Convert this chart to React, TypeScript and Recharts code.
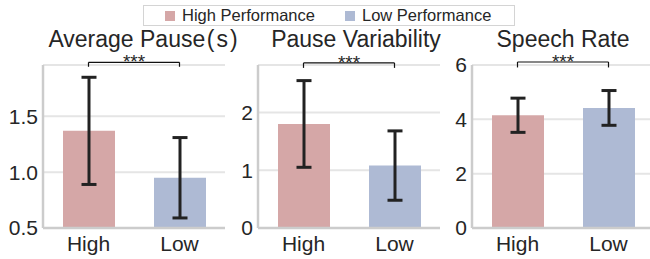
import React from 'react';
import { BarChart, Bar, XAxis, YAxis, CartesianGrid, ErrorBar, Cell, ReferenceLine } from 'recharts';

const FONT = '"Liberation Sans", Arial, Helvetica, sans-serif';
const TEXT = '#262626';

const categories = ['High', 'Low'];
const legendLabels = ['High Performance', 'Low Performance'];
const barColors = ['#d5a7a7', '#aebad4'];
const titles = ['Average Pause(s)', 'Pause Variability', 'Speech Rate'];

const pauseMeans = [1.37, 0.95];
const pauseErrors = [0.48, 0.36];
const variabilityMeans = [1.8, 1.08];
const variabilityErrors = [0.75, 0.6];
const rateMeans = [4.15, 4.42];
const rateErrors = [0.63, 0.64];

const pauseTicks = [0.5, 1.0, 1.5];
const variabilityTicks = [0, 1, 2];
const rateTicks = [0, 2, 4, 6];

const pauseDomain = [0.5, 1.96];
const variabilityDomain = [0, 2.82];
const rateDomain = [0, 6];

// significance brackets: [end of the drop, level of the bar]
const sigLabels = ['***', '***', '***'];
const pauseBracket = [1.944, 1.984];
const variabilityBracket = [2.77, 2.856];
const rateBracket = [5.91, 6.11];

const toRows = (means: number[], errors: number[]) =>
  categories.map((name, i) => ({ name, value: means[i], err: errors[i] }));

const panels = [
  { left: 3, rows: toRows(pauseMeans, pauseErrors), ticks: pauseTicks, domain: pauseDomain, bracket: pauseBracket, fmt: (v: number) => v.toFixed(1) },
  { left: 218, rows: toRows(variabilityMeans, variabilityErrors), ticks: variabilityTicks, domain: variabilityDomain, bracket: variabilityBracket, fmt: (v: number) => String(v) },
  { left: 432, rows: toRows(rateMeans, rateErrors), ticks: rateTicks, domain: rateDomain, bracket: rateBracket, fmt: (v: number) => String(v) },
];

const titleCenters = [143, 356, 563];

function Title({ text, x }: { text: string; x: number }) {
  // matplotlib mathtext spaces the "(s)" out a little
  const m = text.match(/^(.*)\((.*)\)$/);
  return (
    <text x={x} y={47} textAnchor="middle" fontSize={23} fill={TEXT} fontFamily={FONT}>
      {m ? (
        <>
          {m[1]}
          <tspan dx={1.5}>(</tspan>
          <tspan dx={2}>{m[2]}</tspan>
          <tspan dx={2}>)</tspan>
        </>
      ) : (
        text
      )}
    </text>
  );
}

function Panel({ p, idx }: { p: typeof panels[number]; idx: number }) {
  const [low, high] = p.bracket;
  return (
    <div style={{ position: 'absolute', left: p.left, top: 0 }}>
      <BarChart width={222} height={259} data={p.rows} margin={{ top: 65, right: 0, bottom: 0, left: 0 }}>
        <CartesianGrid vertical={false} stroke="#e5e5e5" strokeWidth={2} />
        <XAxis
          dataKey="name"
          height={31}
          tickLine={false}
          axisLine={{ stroke: '#cccccc', strokeWidth: 2.5 }}
          tick={{ fontSize: 21, fill: TEXT, fontFamily: FONT }}
          tickSize={6}
          tickMargin={2}
        />
        <YAxis
          width={40}
          type="number"
          domain={p.domain}
          ticks={p.ticks}
          interval={0}
          allowDataOverflow
          tickFormatter={p.fmt}
          tickLine={false}
          axisLine={{ stroke: '#cccccc', strokeWidth: 2.5 }}
          tick={{ fontSize: 21, fill: TEXT, fontFamily: FONT }}
          tickSize={5}
          tickMargin={0}
        />
        <Bar dataKey="value" barSize={52} isAnimationActive={false}>
          {p.rows.map((r, i) => (
            <Cell key={r.name} fill={barColors[i]} />
          ))}
          <ErrorBar dataKey="err" direction="y" width={7.5} stroke="#222" strokeWidth={3} isAnimationActive={false} />
        </Bar>
        <ReferenceLine
          ifOverflow="visible"
          stroke="#111"
          strokeWidth={1.2}
          segment={[{ x: categories[0], y: high }, { x: categories[1], y: high }]}
          label={{ value: sigLabels[idx], position: 'top', offset: -6, fontSize: 19, fill: TEXT, fontFamily: FONT }}
        />
        <ReferenceLine
          ifOverflow="visible"
          stroke="#111"
          strokeWidth={1.2}
          segment={[{ x: categories[0], y: low }, { x: categories[0], y: high }]}
        />
        <ReferenceLine
          ifOverflow="visible"
          stroke="#111"
          strokeWidth={1.2}
          segment={[{ x: categories[1], y: low }, { x: categories[1], y: high }]}
        />
      </BarChart>
    </div>
  );
}

export default function App() {
  return (
    <div style={{ position: 'absolute', left: 0, top: 0, width: 650, height: 259, overflow: 'hidden', background: '#fff', fontFamily: FONT }}>
      {panels.map((p, i) => (
        <Panel key={i} p={p} idx={i} />
      ))}
      <svg width={650} height={259} style={{ position: 'absolute', left: 0, top: 0, pointerEvents: 'none' }}>
        {titles.map((t, i) => (
          <Title key={t} text={t} x={titleCenters[i]} />
        ))}
      </svg>
      <div
        style={{
          position: 'absolute',
          left: 143,
          top: 5,
          width: 370,
          height: 19,
          border: '1px solid #d4d4d4',
          background: '#fff',
        }}
      >
        {legendLabels.map((label, i) => (
          <div key={label} style={{ position: 'absolute', left: i === 0 ? 21 : 201, top: 0, height: 19, display: 'flex', alignItems: 'center' }}>
            <span style={{ width: 10, height: 10, background: barColors[i], display: 'inline-block', marginRight: 7 }} />
            <span style={{ fontSize: 16.5, color: TEXT, lineHeight: '19px' }}>{label}</span>
          </div>
        ))}
      </div>
    </div>
  );
}
